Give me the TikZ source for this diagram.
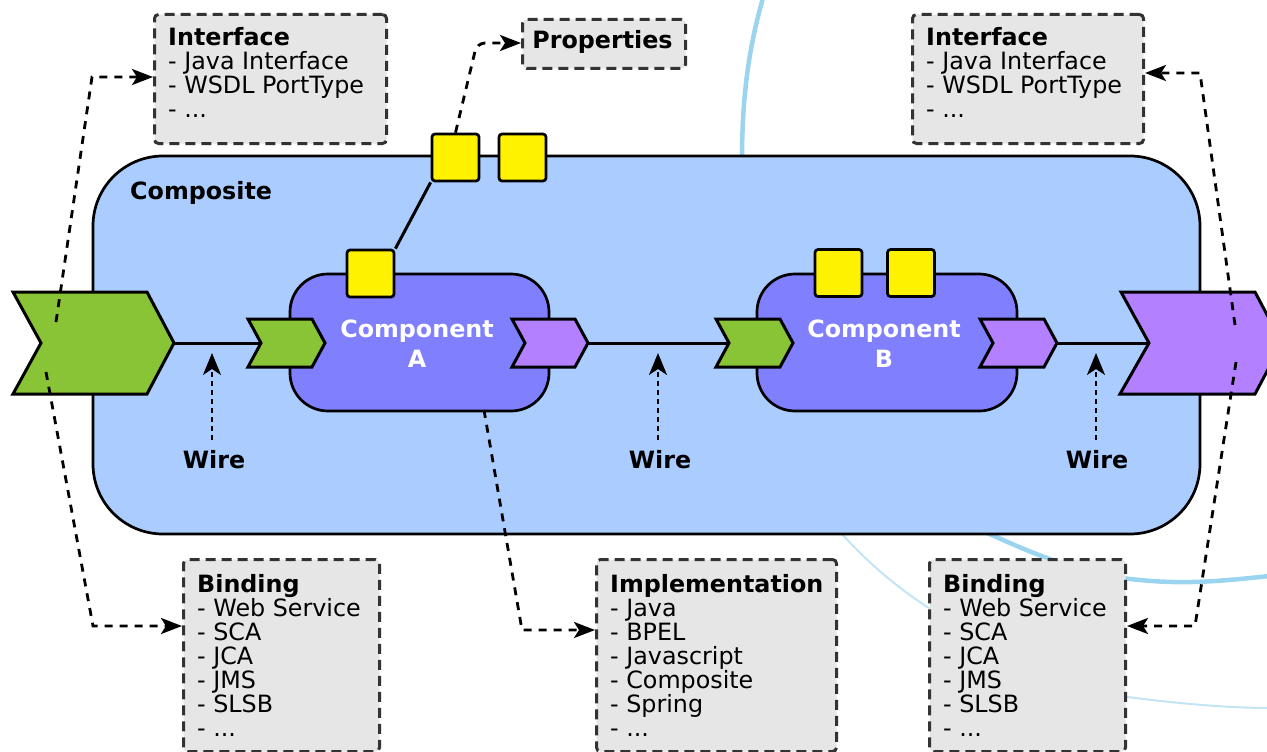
\documentclass[tikz,border=0pt]{standalone}
\usepackage{fontspec}
\setmainfont{DejaVu Sans}
\usetikzlibrary{arrows.meta}
\definecolor{compositeblue}{HTML}{AACCFF}
\definecolor{compviolet}{HTML}{8080FF}
\definecolor{svcgreen}{HTML}{88C436}
\definecolor{refpurple}{HTML}{B380FF}
\definecolor{boxgray}{HTML}{E6E6E6}
\definecolor{boxborder}{HTML}{333333}
\definecolor{arcblue}{HTML}{9AD4EE}
\definecolor{arclight}{HTML}{C2E5F5}
\newcommand\diagfont{\fontsize{23.8}{24}\selectfont}
\tikzset{
  composite/.style={draw=black, line width=2.7pt, fill=compositeblue, rounded corners=70pt, inner sep=0pt},
  compbox/.style={draw=black, line width=2.7pt, fill=compviolet, rounded corners=38pt, inner sep=0pt},
  port/.style={draw=black, line width=2.7pt, fill=yellow, minimum size=47pt, rounded corners=3pt, inner sep=0pt},
  chevron/.style={draw=black, line width=3pt, line join=miter},
  wireline/.style={draw=black, line width=3pt},
  infobox/.style={draw=boxborder, fill=boxgray, line width=3pt, dash pattern=on 10pt off 6pt, rounded corners=4pt, inner sep=0pt, anchor=north west},
  boxtext/.style={anchor=base west, inner sep=0pt, font=\diagfont},
  conn/.style={draw=black, line width=2.8pt, dash pattern=on 8pt off 7pt, -{Stealth[length=21pt,width=16pt,inset=5pt]}},
  wirearr/.style={draw=black, line width=2.2pt, dash pattern=on 5pt off 4pt, -{Stealth[length=22pt,width=18pt,inset=6pt]}},
  wirelabel/.style={anchor=base, inner xsep=0pt, inner ysep=10pt, font=\diagfont\bfseries},
  complabel/.style={anchor=base, inner sep=0pt, text=white, font=\bfseries\fontsize{23.8}{30}\selectfont},
  arcthick/.style={draw=arcblue, line width=4.5pt},
  arcthin/.style={draw=arclight, line width=2pt}
}
\begin{document}
\begin{tikzpicture}[x=1pt,y=-1pt]
\useasboundingbox (0,0) rectangle (1267,752);
% background arcs
\draw[arcthick] (763,-2) .. controls (748,50) and (742,100) .. (742,160);
\draw[arcthick] (985,532) .. controls (1030,552) and (1080,575) .. (1140,580) .. controls (1190,585) and (1230,580) .. (1270,576);
\draw[arcthin] (840,532) .. controls (870,565) and (900,590) .. (935,612);
\draw[arcthin] (1120,696) .. controls (1180,704) and (1230,708) .. (1270,708);

% composite
\node[composite, minimum width=1107pt, minimum height=378pt] (composite) at (646.5,345) {};
\node[anchor=base west, inner sep=0pt, font=\diagfont\bfseries] (complbl) at (130,199) {Composite};
\node[port] (pc1) at (455.5,157.5) {};
\node[port] (pc2) at (522.5,157.5) {};

% components
\node[compbox, minimum width=259pt, minimum height=137pt] (compA) at (419.5,342.5) {};
\node[compbox, minimum width=260pt, minimum height=137pt] (compB) at (887,342.5) {};
\node[port] (pA) at (370.5,273.5) {};
\node[port] (pB1) at (838.5,273) {};
\node[port] (pB2) at (911,273) {};
\draw[wireline] (pA.north east) -- (pc1.south west);
\node[complabel] (labA) at (417,337) {\parbox[t]{200pt}{\centering Component\\A}};
\node[complabel] (labB) at (884,337) {\parbox[t]{200pt}{\centering Component\\B}};

% chevrons
\draw[chevron, fill=svcgreen] (13,292) -- (147,292) -- (174,343) -- (147,394) -- (13,394) -- (41,343) -- cycle;
\draw[chevron, fill=svcgreen] (248,319) -- (312,319) -- (325,343) -- (312,367) -- (248,367) -- (261,343) -- cycle;
\draw[chevron, fill=refpurple] (512,319) -- (575,319) -- (588,343) -- (575,367) -- (512,367) -- (525,343) -- cycle;
\draw[chevron, fill=svcgreen] (716,319) -- (780,319) -- (793,343) -- (780,367) -- (716,367) -- (729,343) -- cycle;
\draw[chevron, fill=refpurple] (980,319) -- (1044,319) -- (1057,343) -- (1044,367) -- (980,367) -- (993,343) -- cycle;
\draw[chevron, fill=refpurple] (1121,292) -- (1255,292) -- (1282,343) -- (1255,394) -- (1120,394) -- (1149,343) -- cycle;

\coordinate (gBigTip) at (174,343);
\coordinate (gANotch) at (261,343);
\coordinate (pATip) at (588,343);
\coordinate (gBNotch) at (729,343);
\coordinate (pBTip) at (1057,343);
\coordinate (pBigNotch) at (1149,343);

% wires
\draw[wireline] (gBigTip) -- (gANotch);
\draw[wireline] (pATip) -- (gBNotch);
\draw[wireline] (pBTip) -- (pBigNotch);

% wire labels
\coordinate (wt1) at (212,353);
\coordinate (wt2) at (658,353);
\coordinate (wt3) at (1096,353);
\node[wirelabel] (w1) at (214,468) {Wire};
\node[wirelabel] (w2) at (660,468) {Wire};
\node[wirelabel] (w3) at (1097,468) {Wire};
\draw[wirearr] (w1.north -| wt1) -- (wt1);
\draw[wirearr] (w2.north -| wt2) -- (wt2);
\draw[wirearr] (w3.north -| wt3) -- (wt3);

% info boxes
\node[infobox, minimum width=232pt, minimum height=129pt] (ifaceL) at (153,13) {};
\node[infobox, minimum width=163pt, minimum height=49pt] (props) at (521,18) {};
\node[infobox, minimum width=231pt, minimum height=129pt] (ifaceR) at (911,13) {};
\node[infobox, minimum width=196pt, minimum height=192pt] (bindL) at (182,558) {};
\node[infobox, minimum width=240pt, minimum height=192pt] (impl) at (595,558) {};
\node[infobox, minimum width=196pt, minimum height=192pt] (bindR) at (928,558) {};

\node[boxtext] (ifaceLt) at (168,46) {\parbox[t]{215pt}{\raggedright\textbf{Interface}\\- Java Interface\\- WSDL PortType\\- ...}};
\node[boxtext] (ifaceRt) at (926,46) {\parbox[t]{215pt}{\raggedright\textbf{Interface}\\- Java Interface\\- WSDL PortType\\- ...}};
\node[anchor=base, inner sep=0pt, font=\diagfont\bfseries] (propst) at (602.5,49) {Properties};
\node[boxtext] (bindLt) at (197,592) {\parbox[t]{180pt}{\raggedright\textbf{Binding}\\- Web Service\\- SCA\\- JCA\\- JMS\\- SLSB\\- ...}};
\node[boxtext] (implt) at (610,592) {\parbox[t]{225pt}{\raggedright\textbf{Implementation}\\- Java\\- BPEL\\- Javascript\\- Composite\\- Spring\\- ...}};
\node[boxtext] (bindRt) at (943,592) {\parbox[t]{180pt}{\raggedright\textbf{Binding}\\- Web Service\\- SCA\\- JCA\\- JMS\\- SLSB\\- ...}};

% dashed connectors
\coordinate (gUp) at (56,322);
\coordinate (gDown) at (46,372);
\coordinate (cIL) at (92,77);
\coordinate (cBL) at (93,626);
\coordinate (pUp) at (1235,325);
\coordinate (pDown) at (1236,362);
\coordinate (cIR) at (1200,73);
\coordinate (cBR) at (1195,626);
\coordinate (aBot) at (484,410);
\coordinate (cI) at (522,630);
\coordinate (cP) at (477,43);
\draw[conn] (gUp) -- (cIL) -- (cIL -| ifaceL.west);
\draw[conn] (gDown) -- (cBL) -- (cBL -| bindL.west);
\draw[conn] (pUp) -- (cIR) -- (cIR -| ifaceR.east);
\draw[conn] (pDown) -- (cBR) -- (cBR -| bindR.east);
\draw[conn] (aBot) -- (cI) -- (cI -| impl.west);
\draw[conn, rounded corners=8pt] (pc1.north) -- (cP) -- (cP -| props.west);
\end{tikzpicture}
\end{document}
